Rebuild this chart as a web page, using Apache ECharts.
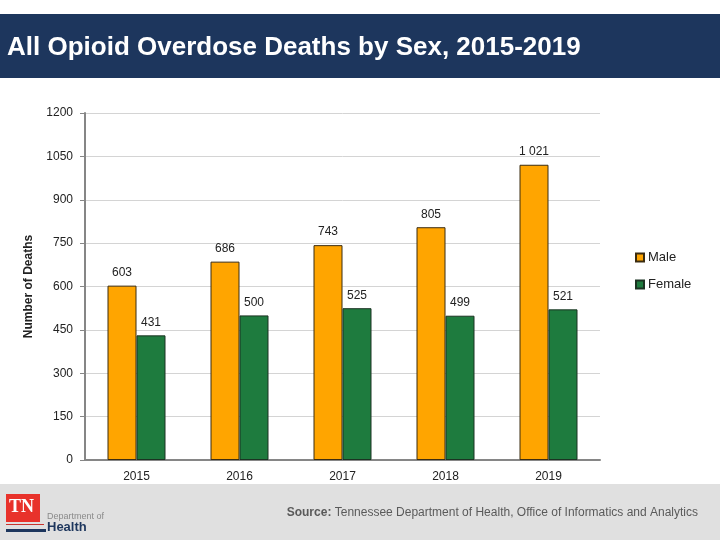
<!DOCTYPE html>
<html>
<head>
<meta charset="utf-8">
<script src="https://cdn.jsdelivr.net/npm/echarts@6/dist/echarts.min.js"></script>
<style>
html,body{margin:0;padding:0;background:#fff;}
#c{width:720px;height:540px;}
</style>
</head>
<body>
<div id="c"></div>
<script>
const titleText = 'All Opioid Overdose Deaths by Sex, 2015-2019';
const categories = ['2015', '2016', '2017', '2018', '2019'];
const maleValues = [603, 686, 743, 805, 1021];
const femaleValues = [431, 500, 525, 499, 521];
const seriesNames = ['Male', 'Female'];
const yAxisName = 'Number of Deaths';
const sourceLabel = 'Source:';
const sourceText = ' Tennessee Department of Health, Office of Informatics and Analytics';

const FONT = '"Liberation Sans", Arial, sans-serif';
function fmt(v) {
  return String(v).replace(/\B(?=(\d{3})+(?!\d))/g, ' ');
}

const chart = echarts.init(document.getElementById('c'), null, {renderer: 'canvas'});
const labelCfg = {
  show: true, position: 'top', distance: 7,
  fontFamily: FONT, fontSize: 12, color: '#222',
  formatter: p => fmt(p.value)
};
chart.setOption({
  animation: false,
  backgroundColor: '#ffffff',
  textStyle: {fontFamily: FONT},
  grid: {left: 85, right: 120, top: 113, bottom: 80, containLabel: false},
  legend: {
    orient: 'vertical', left: 630, top: 246,
    itemWidth: 8, itemHeight: 8, itemGap: 14,
    icon: 'rect',
    textStyle: {fontFamily: FONT, fontSize: 13, color: '#222', padding: [0, 0, 0, -1]},
    data: seriesNames
  },
  xAxis: {
    type: 'category', data: categories,
    axisLine: {show: true, lineStyle: {color: '#868686', width: 2}},
    axisTick: {show: false},
    axisLabel: {fontFamily: FONT, fontSize: 12, color: '#222', margin: 11}
  },
  yAxis: {
    type: 'value', min: 0, max: 1200, interval: 150,
    name: yAxisName, nameLocation: 'middle', nameGap: 50,
    nameTextStyle: {fontFamily: FONT, fontSize: 12, fontWeight: 'bold', color: '#222'},
    axisLine: {show: true, lineStyle: {color: '#868686', width: 2}},
    axisTick: {show: true, length: 5, lineStyle: {color: '#868686', width: 1}},
    axisLabel: {fontFamily: FONT, fontSize: 12, color: '#222', margin: 12, formatter: v => String(v)},
    splitLine: {show: true, lineStyle: {color: '#d4d4d4', width: 1}}
  },
  series: [
    {
      name: seriesNames[0], type: 'bar', data: maleValues,
      barWidth: 29, barGap: '0%',
      itemStyle: {color: '#FFA500', borderColor: '#3b2c10', borderWidth: 1},
      label: labelCfg
    },
    {
      name: seriesNames[1], type: 'bar', data: femaleValues,
      barWidth: 29,
      itemStyle: {color: '#1E7B3E', borderColor: '#1b3322', borderWidth: 1},
      label: labelCfg
    }
  ],
  graphic: [
    {type: 'rect', left: 0, top: 14, z: -1, shape: {width: 720, height: 64}, style: {fill: '#1d365d'}},
    {type: 'text', left: 7, top: 35, style: {text: titleText, fill: '#ffffff', font: 'bold 26px ' + FONT}},
    {type: 'rect', left: 0, top: 484, z: -1, shape: {width: 720, height: 56}, style: {fill: '#e0e0e0'}},
    {type: 'rect', left: 6, top: 494, shape: {width: 34, height: 28}, style: {fill: '#e8322b'}},
    {type: 'text', left: 9, top: 498, style: {text: 'TN', fill: '#ffffff', font: 'bold 18px "Liberation Serif", "DejaVu Serif", serif'}},
    {type: 'rect', left: 6, top: 524, shape: {width: 38, height: 1}, style: {fill: '#c8342e'}},
    {type: 'rect', left: 6, top: 529, shape: {width: 40, height: 3}, style: {fill: '#1d365d'}},
    {type: 'text', left: 47, top: 512, style: {text: 'Department of', fill: '#8a8a8a', font: '9px ' + FONT}},
    {type: 'text', left: 47, top: 521, style: {text: 'Health', fill: '#1d365d', font: 'bold 13px ' + FONT}},
    {type: 'text', right: 22, top: 507, style: {
      rich: {b: {font: 'bold 12px ' + FONT, fill: '#5a5a5a'}, n: {font: '12px ' + FONT, fill: '#5a5a5a'}},
      text: '{b|' + sourceLabel + '}{n|' + sourceText + '}'
    }}
  ]
});
</script>
</body>
</html>
